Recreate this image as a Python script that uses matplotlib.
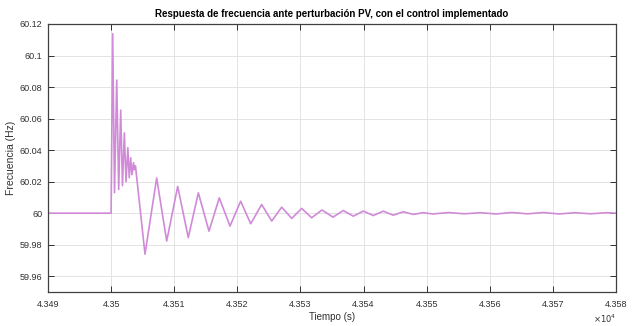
import numpy as np
import matplotlib
matplotlib.use("Agg")
import matplotlib.pyplot as plt

plt.rcParams['font.family'] = ['Liberation Sans Narrow', 'Liberation Sans', 'DejaVu Sans']

# flat part before the disturbance
t_pre = [43490.0, 43500.0]
f_pre = [60.0, 60.0]

# fast ripple right after the PV disturbance (peaks and troughs)
t_hf = [43500.25, 43500.54, 43500.89, 43501.2, 43501.52, 43501.8, 43502.1, 43502.36,
        43502.65, 43502.87, 43503.1, 43503.3, 43503.55, 43503.7, 43503.86]
f_hf = [60.1138, 60.0130, 60.0844, 60.0150, 60.0654, 60.0175, 60.0509, 60.0200,
        60.0415, 60.0225, 60.0351, 60.0244, 60.0320, 60.0276, 60.0300]

# slow damped oscillation (extrema)
t_lf = [43505.37, 43507.22, 43508.81, 43510.55, 43512.23, 43513.82, 43515.51, 43517.14,
        43518.84, 43520.53, 43522.12, 43523.86, 43525.45, 43527.03, 43528.62, 43530.2,
        43531.78, 43533.42, 43535.16, 43536.79, 43538.38, 43539.96, 43541.55, 43543.13,
        43544.71, 43546.3, 43547.88, 43549.42]
f_lf = [59.9740, 60.0223, 59.9823, 60.0170, 59.9845, 60.0129, 59.9886, 60.0097,
        59.9918, 60.0076, 59.9933, 60.0055, 59.9950, 60.0038, 59.9967, 60.0030,
        59.9971, 60.0020, 59.9975, 60.0017, 59.9981, 60.0013, 59.9985, 60.0013,
        59.9987, 60.0009, 59.9992, 60.0003]

# small residual wiggle until the end
t_tail = [43551.0, 43553.5, 43556.0, 43558.5, 43561.0, 43563.5, 43566.0, 43568.5,
          43571.0, 43573.5, 43576.0, 43578.5, 43580.0]
f_tail = [59.9995, 60.0004, 59.9996, 60.0003, 59.9995, 60.0004, 59.9996, 60.0004,
          59.9995, 60.0003, 59.9996, 60.0003, 60.0000]

t = np.array(t_pre + t_hf + t_lf + t_tail)
f = np.array(f_pre + f_hf + f_lf + f_tail)

xticks = [43490, 43500, 43510, 43520, 43530, 43540, 43550, 43560, 43570, 43580]
yticks = [59.96, 59.98, 60.0, 60.02, 60.04, 60.06, 60.08, 60.1, 60.12]
ylabels = ['59.96', '59.98', '60', '60.02', '60.04', '60.06', '60.08', '60.1', '60.12']

fig = plt.figure(figsize=(6.35, 3.26), dpi=100)
ax = fig.add_axes([0.0756, 0.1043, 0.8944, 0.8221])
ax.plot(t, f, color='#d08ad8', lw=1.2, solid_joinstyle='round')

ax.set_xlim(43490, 43580)
ax.set_ylim(59.95, 60.12)
ax.set_xticks(xticks)
ax.set_xticklabels([f"{v/1e4:g}" for v in xticks])
ax.set_yticks(yticks)
ax.set_yticklabels(ylabels)
ax.tick_params(direction='in', length=4, width=0.7, labelsize=6.5, colors='#303030',
               top=True, right=True)
ax.tick_params(axis='y', pad=4)
ax.tick_params(axis='x', pad=6)
ax.grid(True, color='#e3e3e3', lw=0.7)
for s in ax.spines.values():
    s.set_color('#404040')
    s.set_linewidth(0.9)

ax.set_title("Respuesta de frecuencia ante perturbación PV, con el control implementado",
             fontsize=7, fontweight='bold', pad=5)
ax.set_xlabel("Tiempo (s)", fontsize=7, color='#303030', labelpad=2)
ax.set_ylabel("Frecuencia (Hz)", fontsize=7.5, color='#303030', labelpad=3)
ax.text(1.0, -0.1, r"$\times10^4$", transform=ax.transAxes, fontsize=6,
        color='#303030', ha='right', va='center')

plt.savefig("out.png", dpi=100)
